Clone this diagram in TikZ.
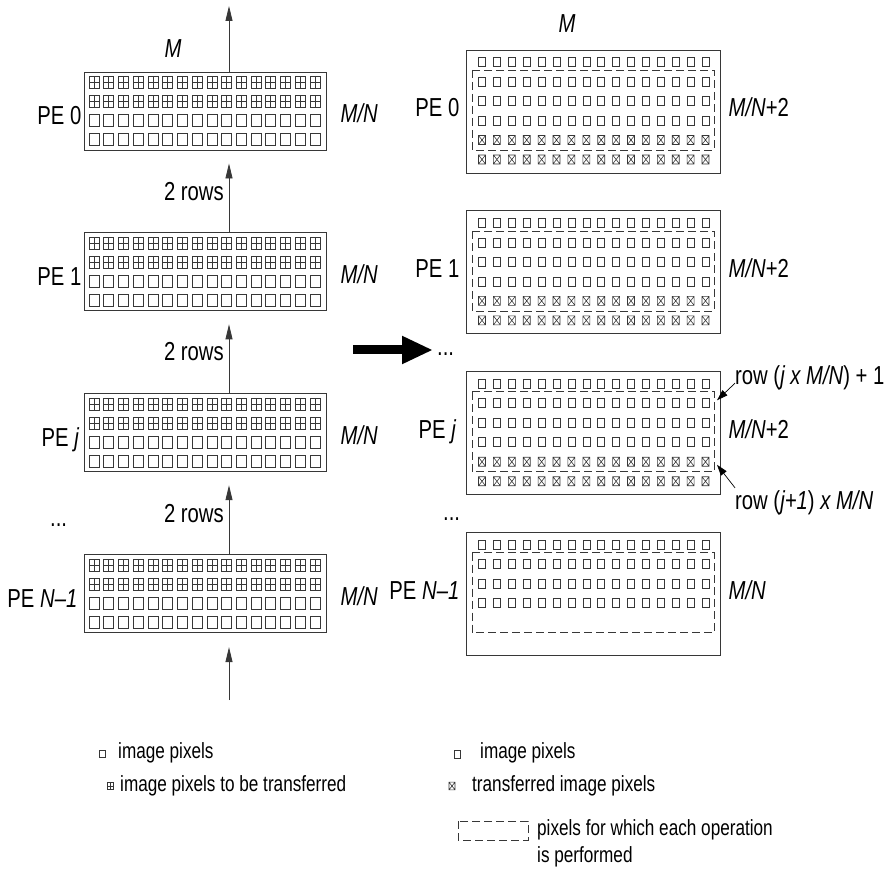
\documentclass[tikz,border=0pt]{standalone}
\usepackage{fontspec}
\setmainfont{Liberation Sans}[FakeStretch=0.78]
\usepackage{xcolor}
\usepackage{tikz}
\usetikzlibrary{arrows.meta, positioning, calc}
\definecolor{pixgray}{RGB}{55,55,55}

\tikzset{
  pixline/.style={draw=pixgray, line width=0.6pt},
  opzone/.style={draw=pixgray, line width=0.7pt, dash pattern=on 8pt off 4pt},
  boxpx/.pic={\draw[pixline] (-5,-6) rectangle (5,6);},
  pluspx/.pic={\draw[pixline] (-5,-6) rectangle (5,6) (0,-6) -- (0,6) (-5,0) -- (5,0);},
  smallpx/.pic={\draw[pixline] (-3.5,-4.5) rectangle (3.5,4.5);},
  crosspx/.pic={\draw[pixline] (-3.5,-4.5) rectangle (3.5,4.5) (-3.5,-4.5) -- (3.5,4.5) (-3.5,4.5) -- (3.5,-4.5);}
}

\newcommand{\leftpixels}[1]{%
  \foreach \col in {0,...,15}{%
    \pic at ($(#1.center)+({-111+14.73*\col},-28.5)$) {pluspx};
    \pic at ($(#1.center)+({-111+14.73*\col},-9.5)$) {pluspx};
    \pic at ($(#1.center)+({-111+14.73*\col},9.5)$) {boxpx};
    \pic at ($(#1.center)+({-111+14.73*\col},28.5)$) {boxpx};
  }}
\newcommand{\rightpixels}[1]{%
  \foreach \col in {0,...,15}
    \foreach \yy in {-49.5,-30,-10.5,9}
      \pic at ($(#1.center)+({-111+14.9*\col},\yy)$) {smallpx};
  \draw[opzone] ($(#1.center)+(-121,-41.5)$) rectangle ($(#1.center)+(121,38.5)$);}
\newcommand{\sentpixels}[1]{%
  \foreach \col in {0,...,15}
    \foreach \yy in {28.5,48}
      \pic at ($(#1.center)+({-111+14.9*\col},\yy)$) {crosspx};}

\begin{document}
\begin{tikzpicture}[x=1pt, y=-1pt, font=\fontsize{26}{30}\selectfont,
    lbox/.style={draw=pixgray, line width=0.9pt, minimum width=242pt,
                 minimum height=78pt, inner sep=0pt},
    rbox/.style={draw=pixgray, line width=0.9pt, minimum width=254pt,
                 minimum height=123pt, inner sep=0pt},
    lab/.style={inner sep=0pt, text height=18pt, text depth=0pt},
    legend/.style={inner sep=0pt, anchor=west, font=\fontsize{22}{27}\selectfont},
    flow/.style={draw=pixgray, line width=0.8pt, -{Triangle[length=15pt,width=7pt]}},
    pointer/.style={line width=0.7pt, -{Triangle[length=11pt,width=7pt]}},
    bigarrow/.style={line width=9pt, -{Triangle[length=31pt,width=26pt]}}
]
    \useasboundingbox (0,0) rectangle (884,874);

    \node[lbox] (L0) at (205,111) {};
    \node[lbox, below=82pt of L0] (L1) {};
    \node[lbox, below=82pt of L1] (Lj) {};
    \node[lbox, below=82pt of Lj] (Ln) {};
    \leftpixels{L0}
    \leftpixels{L1}
    \leftpixels{Lj}
    \leftpixels{Ln}

    \node[lab, left=2pt of L0, yshift=-5pt] (L0pe) {PE 0};
    \node[lab, left=2pt of L1, yshift=-5pt] (L1pe) {PE 1};
    \node[lab, left=4pt of Lj, yshift=-5pt] (Ljpe) {PE \textit{j}};
    \node[lab, left=6pt of Ln, yshift=-5pt] (Lnpe) {PE \textit{N--1}};
    \node[lab, right=14pt of L0, yshift=-3pt] (L0mn) {\textit{M/N}};
    \node[lab, right=14pt of L1, yshift=-3pt] (L1mn) {\textit{M/N}};
    \node[lab, right=14pt of Lj, yshift=-3pt] (Ljmn) {\textit{M/N}};
    \node[lab, right=14pt of Ln, yshift=-3pt] (Lnmn) {\textit{M/N}};
    \node[lab] (Lm) at (173,49) {\textit{M}};

    \coordinate (topend) at (229,6);
    \coordinate (botstart) at (229,700);
    \draw[flow] ([xshift=24pt]L0.north) -- (topend);
    \draw[flow] ([xshift=24pt]L1.north) -- ([xshift=24pt,yshift=-13pt]L0.south);
    \draw[flow] ([xshift=24pt]Lj.north) -- ([xshift=24pt,yshift=-13pt]L1.south);
    \draw[flow] ([xshift=24pt]Ln.north) -- ([xshift=24pt,yshift=-13pt]Lj.south);
    \draw[flow] (botstart) -- ([xshift=24pt,yshift=-14pt]Ln.south);
    \node[lab, anchor=east] (rows0) at (224,192) {2 rows};
    \node[lab, anchor=east] (rows1) at (224,352) {2 rows};
    \node[lab, anchor=east] (rows2) at (224,513) {2 rows};
    \node[lab, anchor=base west] (ldots) at (50,526) {...};

    \node[rbox] (R0) at (593,111.5) {};
    \node[rbox, below=37pt of R0] (R1) {};
    \node[rbox, below=37pt of R1] (Rj) {};
    \node[rbox, below=37pt of Rj] (Rn) {};
    \rightpixels{R0}
    \rightpixels{R1}
    \rightpixels{Rj}
    \rightpixels{Rn}
    \sentpixels{R0}
    \sentpixels{R1}
    \sentpixels{Rj}

    \node[lab, left=6pt of R0, yshift=4pt] (R0pe) {PE 0};
    \node[lab, left=6pt of R1, yshift=4pt] (R1pe) {PE 1};
    \node[lab, left=9pt of Rj, yshift=4pt] (Rjpe) {PE \textit{j}};
    \node[lab, left=6pt of Rn, yshift=4pt] (Rnpe) {PE \textit{N--1}};
    \node[lab, right=8pt of R0, yshift=4pt] (R0mn) {\textit{M/N}+2};
    \node[lab, right=8pt of R1, yshift=4pt] (R1mn) {\textit{M/N}+2};
    \node[lab, right=8pt of Rj, yshift=4pt] (Rjmn) {\textit{M/N}+2};
    \node[lab, right=8pt of Rn, yshift=4pt] (Rnmn) {\textit{M/N}};
    \node[lab] (Rm) at (567,24) {\textit{M}};
    \node[lab, anchor=base west] (rdots) at (443,520) {...};

    \node[lab, anchor=west] (rowa) at (735,376) {row (\textit{j x M/N}) + 1};
    \node[lab, anchor=west] (rowb) at (735,501) {row (\textit{j+1}) \textit{x M/N}};
    \coordinate (rowatip) at ($(Rj.center)+(124,-33)$);
    \coordinate (rowbtip) at ($(Rj.center)+(124,31.5)$);
    \draw[pointer] ([yshift=2pt]rowa.south west) -- (rowatip);
    \draw[pointer] ([yshift=4pt]rowb.north west) -- (rowbtip);

    \coordinate (bigtail) at (353,350);
    \node[lab, anchor=base west] (mdots) at (437,356) {...};
    \draw[bigarrow] (bigtail) -- ([xshift=-4pt,yshift=-3pt]mdots.west);

    \pic[scale=0.6] at (102,754) {boxpx};
    \node[legend] (lgpix) at (118,753) {image pixels};
    \pic[scale=0.6] at (110,786) {pluspx};
    \node[legend] (lgsend) at (120,786) {image pixels to be transferred};
    \pic[scale=0.85] at (457,754) {smallpx};
    \node[legend] (rgpix) at (480,753) {image pixels};
    \pic[scale=0.85] at (452,786) {crosspx};
    \node[legend] (rgsent) at (472,786) {transferred image pixels};
    \draw[opzone] (458,821) rectangle (528,840);
    \node[legend, anchor=north west, align=left] (rgzone) at (537,819)
        {pixels for which each operation\\is performed};
\end{tikzpicture}
\end{document}
